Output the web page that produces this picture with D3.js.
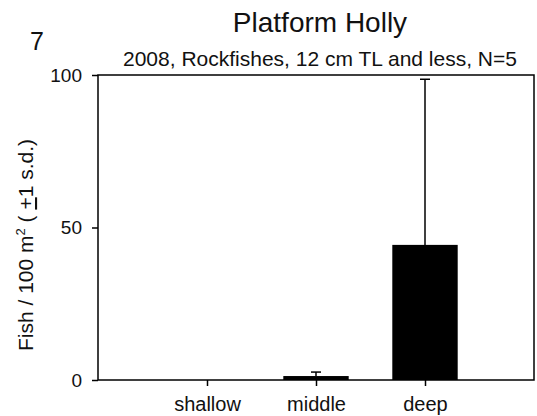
<!DOCTYPE html>
<html><head><meta charset="utf-8">
<script src="https://cdn.jsdelivr.net/npm/d3@7"></script>
<style>body{margin:0;background:#fff}svg{display:block}text{font-family:"Liberation Sans",Arial,sans-serif;fill:#111}</style>
</head><body>
<svg id="c" width="537" height="416"></svg>
<script>
const categories = ["shallow", "middle", "deep"];
const means = [0, 1.3, 44.3];
const sds = [0, 1.3, 54.3];
const yTicks = [0, 50, 100];

const svg = d3.select("#c");
const m = {l: 98, r: 534, t: 75, b: 380};
const x = d3.scalePoint().domain(categories).range([m.l, m.r]).padding(1);
const y = d3.scaleLinear().domain([0, 100]).range([m.b, m.t]);
const bw = 0.6 * x.step();

// frame
svg.append("rect").attr("x", m.l).attr("y", m.t).attr("width", m.r - m.l).attr("height", m.b - m.t)
  .attr("fill", "none").attr("stroke", "#000").attr("stroke-width", 1.5);

// bars
svg.selectAll(".bar").data(categories).join("rect")
  .attr("x", d => x(d) - bw / 2).attr("width", bw)
  .attr("y", (d, i) => y(means[i])).attr("height", (d, i) => y(0) - y(means[i]))
  .attr("fill", "#000");

// error bars
const eb = svg.selectAll(".eb").data(categories.filter((d, i) => sds[i] > 0)).join("g");
eb.append("line").attr("x1", d => x(d)).attr("x2", d => x(d))
  .attr("y1", d => y(means[categories.indexOf(d)]))
  .attr("y2", d => y(means[categories.indexOf(d)] + sds[categories.indexOf(d)]))
  .attr("stroke", "#000").attr("stroke-width", 1.5);
eb.append("line").attr("x1", d => x(d) - 5).attr("x2", d => x(d) + 5)
  .attr("y1", d => y(means[categories.indexOf(d)] + sds[categories.indexOf(d)]))
  .attr("y2", d => y(means[categories.indexOf(d)] + sds[categories.indexOf(d)]))
  .attr("stroke", "#000").attr("stroke-width", 1.5);

// y axis
const ya = svg.append("g").attr("transform", `translate(${m.l},0)`)
  .call(d3.axisLeft(y).tickValues(yTicks).tickSize(6).tickPadding(10));
ya.select(".domain").remove();
ya.selectAll("line").attr("stroke", "#000").attr("stroke-width", 1.5);
ya.selectAll("text").style("font-size", "19px").attr("fill", "#111");

// x axis
const xa = svg.append("g").attr("transform", `translate(0,${m.b})`)
  .call(d3.axisBottom(x).tickSize(6).tickPadding(11));
xa.select(".domain").remove();
xa.selectAll("line").attr("stroke", "#000").attr("stroke-width", 1.5);
xa.selectAll("text").style("font-size", "20px").attr("fill", "#111");

// titles
svg.append("text").attr("x", 320).attr("y", 32).attr("text-anchor", "middle").style("font-size", "28px").text("Platform Holly");
svg.append("text").attr("x", 30).attr("y", 50).style("font-size", "25px").text("7");
svg.append("text").attr("x", 320).attr("y", 66).attr("text-anchor", "middle").style("font-size", "21px").text("2008, Rockfishes, 12 cm TL and less, N=5");

// y label
const yl = svg.append("text").attr("transform", "translate(33,245) rotate(-90)").attr("text-anchor", "middle").style("font-size", "21px");
yl.append("tspan").text("Fish / 100 m");
yl.append("tspan").attr("dy", -8).style("font-size", "13px").text("2");
yl.append("tspan").attr("dy", 8).text(" ( ");
yl.append("tspan").style("text-decoration", "underline").text("+");
yl.append("tspan").text("1 s.d.)");
</script>
</body></html>
